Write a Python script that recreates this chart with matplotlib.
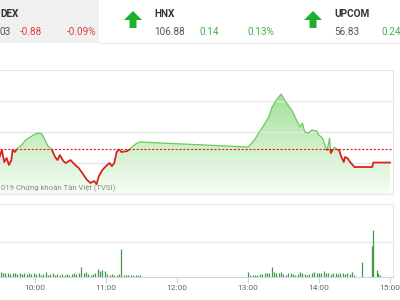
import numpy as np
import matplotlib.pyplot as plt
from matplotlib.patches import Rectangle, Polygon
from matplotlib.colors import LinearSegmentedColormap

plt.rcParams['font.family'] = ['Roboto', 'DejaVu Sans']

# ---- data ----
ref_price = 971.90
price_times = ['9:15', '9:20', '9:25', '9:30', '9:32', '9:34', '9:36', '9:38', '9:40', '9:41',
               '9:43', '9:45', '9:48', '9:52', '9:56', '10:00', '10:03', '10:06', '10:08', '10:11',
               '10:14', '10:17', '10:19', '10:21', '10:24', '10:26', '10:30', '10:34', '10:37', '10:40',
               '10:44', '10:47', '10:50', '10:52', '10:54', '10:57', '11:00', '11:03', '11:05', '11:07',
               '11:09', '11:11', '11:13', '11:18', '11:21', '11:25', '11:28', '11:30',
               '13:00', '13:04', '13:06', '13:09', '13:12', '13:15', '13:18', '13:20', '13:24', '13:26',
               '13:28', '13:31', '13:35', '13:38', '13:41', '13:44', '13:46', '13:48', '13:51', '13:54',
               '13:58', '14:00', '14:03', '14:06', '14:07', '14:09', '14:10', '14:13', '14:15', '14:17',
               '14:19', '14:21', '14:22', '14:24', '14:27', '14:30', '14:45', '14:46', '15:00']
prices = [971.51, 971.19, 971.71, 971.38, 971.84, 971.06, 971.32, 970.87, 971.19, 971.84,
          971.71, 971.96, 972.09, 972.48, 972.67, 972.87, 972.93, 972.87, 972.55, 972.09,
          971.90, 971.38, 971.19, 971.51, 971.12, 971.00, 971.19, 970.87, 970.67, 970.35,
          969.90, 969.71, 969.84, 969.64, 970.16, 970.55, 970.80, 971.00, 970.80, 971.00,
          971.71, 971.90, 971.71, 971.77, 971.96, 972.22, 972.35, 972.35,
          972.03, 972.35, 972.55, 972.93, 973.26, 973.64, 974.03, 974.55, 975.06, 975.26,
          975.45, 975.06, 974.61, 974.29, 973.77, 973.32, 973.58, 973.00, 972.93, 973.13,
          973.06, 972.80, 972.61, 971.96, 971.84, 972.61, 971.64, 972.03, 971.90, 971.84,
          971.38, 971.06, 971.38, 971.32, 971.00, 970.74, 970.74, 971.03, 971.03]

vol_morning = [0.30, 0.12, 0.10, 0.14, 0.10, 0.12, 0.09, 0.11, 0.13, 0.10,   # 9:15 - 9:33
               0.12, 0.11, 0.09, 0.12, 0.10, 0.08, 0.10, 0.09, 0.11, 0.08,   # 9:35 - 9:53
               0.10, 0.09, 0.12, 0.08, 0.10, 0.07, 0.09, 0.14, 0.07, 0.08,   # 9:55 - 10:13
               0.10, 0.06, 0.08, 0.07, 0.09, 0.06, 0.08, 0.07, 0.09, 0.12,   # 10:15 - 10:33
               0.08, 0.10, 0.27, 0.12, 0.14, 0.08, 0.07, 0.09, 0.10, 0.22,   # 10:35 - 10:53
               0.16, 0.20, 0.18, 0.09, 0.07, 0.08, 0.06, 0.07, 0.08, 0.80,   # 10:55 - 11:13
               0.07, 0.06, 0.07, 0.05, 0.06, 0.07, 0.05, 0.06]               # 11:15 - 11:29
vol_afternoon = [0.15, 0.05, 0.06, 0.07, 0.06, 0.08, 0.09, 0.10, 0.12, 0.10,  # 13:00 - 13:18
                 0.27, 0.14, 0.12, 0.10, 0.13, 0.08, 0.07, 0.10, 0.12, 0.08,  # 13:20 - 13:38
                 0.07, 0.09, 0.14, 0.10, 0.08, 0.07, 0.09, 0.12, 0.14, 0.12,  # 13:40 - 13:58
                 0.10, 0.12, 0.17, 0.12, 0.10, 0.09, 0.12, 0.10, 0.08, 0.10,  # 14:00 - 14:18
                 0.12, 0.09, 0.11, 0.08, 0.13, 0.06]                          # 14:20 - 14:30
atc_times = ['14:36', '14:45', '14:46', '14:49', '14:50', '14:52']
atc_vols = [0.43, 0.87, 1.33, 0.20, 0.12, 0.05]

tick_labels = ['10:00', '11:00', '12:00', '13:00', '14:00', '15:00']


def minutes(s):
    h, m = s.split(':')
    return (int(h) - 9) * 60 + int(m)


t_price = np.array([minutes(s) for s in price_times])
p = np.array(prices)
t_vol = np.concatenate([np.arange(15, 15 + 2 * len(vol_morning), 2),
                        np.arange(240, 240 + 2 * len(vol_afternoon), 2),
                        [minutes(s) for s in atc_times]])
v = np.array(vol_morning + vol_afternoon + atc_vols)

W, H = 400, 300
fig = plt.figure(figsize=(4, 3), dpi=100)


def fx(x):
    return x / W


def fy(y):
    return 1 - y / H


xlim = (30.4, 362.6)
grid_c = '#e6e6e6'

# ---- header ----
fig.patches.append(Rectangle((0, fy(43)), fx(99), 43 / H, transform=fig.transFigure,
                             facecolor='#f0f0f0', edgecolor='none'))
fig.add_artist(plt.Line2D([fx(99), 1], [fy(43), fy(43)], color='#ececec', lw=1))

name_kw = dict(fontsize=7.2, fontweight='bold', color='#333333', va='baseline')
num_kw = dict(fontsize=7.2, va='baseline')
fig.text(fx(0), fy(17), 'DEX', **name_kw)
fig.text(fx(0), fy(35), '03', color='#555555', **num_kw)
fig.text(fx(20), fy(35), '-0.88', color='#e04040', **num_kw)
fig.text(fx(67), fy(35), '-0.09%', color='#e04040', **num_kw)

fig.text(fx(154), fy(17), 'HNX', **name_kw)
fig.text(fx(154), fy(35), '106.88', color='#555555', **num_kw)
fig.text(fx(200), fy(35), '0.14', color='#3cb846', **num_kw)
fig.text(fx(247), fy(35), '0.13%', color='#3cb846', **num_kw)

fig.text(fx(334), fy(17), 'UPCOM', **name_kw)
fig.text(fx(334), fy(35), '56.83', color='#555555', **num_kw)
fig.text(fx(381), fy(35), '0.24', color='#3cb846', **num_kw)

# green up arrows
for cx in (133, 313):
    pts = [(cx, 11), (cx + 9, 20), (cx + 3.5, 20), (cx + 3.5, 28), (cx - 3.5, 28),
           (cx - 3.5, 20), (cx - 9, 20)]
    fig.patches.append(Polygon([(fx(a), fy(b)) for a, b in pts], closed=True,
                               transform=fig.transFigure, facecolor='#1fae2f', edgecolor='none'))

# ---- price panel ----
ax = fig.add_axes([0, fy(194), fx(393), (194 - 70) / H])
ax.set_xlim(*xlim)
ax.set_ylim(969, 977)
ax.spines['left'].set_visible(False)
for s in ['top', 'right', 'bottom']:
    ax.spines[s].set_color(grid_c)
ax.set_xticks([])
ax.set_yticks([971, 973, 975])
ax.tick_params(left=False, labelleft=False)
ax.grid(axis='y', color=grid_c, lw=0.9)

# gradient fill under the line
cmap = LinearSegmentedColormap.from_list('g', ['#f7fdf6', '#8edb82'])
grad = np.linspace(0, 1, 256).reshape(-1, 1)
im = ax.imshow(grad, extent=[xlim[0], xlim[1], 969, 977], origin='lower', aspect='auto',
               cmap=cmap, zorder=1)
poly = ax.fill_between(t_price, p, 969, facecolor='none', edgecolor='none')
im.set_clip_path(poly.get_paths()[0], transform=ax.transData)

# green above reference, red below
up = ax.plot(t_price, p, color='#6cc960', lw=0.9, zorder=3)[0]
dn = ax.plot(t_price, p, color='#d8241c', lw=1.3, zorder=4)[0]
up.set_clip_path(Rectangle((xlim[0], ref_price), xlim[1] - xlim[0], 977 - ref_price,
                           transform=ax.transData))
dn.set_clip_path(Rectangle((xlim[0], 969), xlim[1] - xlim[0], ref_price - 969,
                           transform=ax.transData))
ax.axhline(ref_price, color='#d8241c', lw=0.8, ls=(0, (2, 1.5)), zorder=5)

fig.text(fx(1), fy(190), '019 Chứng khoán Tân Việt (TVSI)', fontsize=5.6, color='#8a8a8a',
         va='baseline')

# ---- volume panel ----
av = fig.add_axes([0, fy(277), fx(393), (277 - 204) / H])
av.set_xlim(*xlim)
av.set_ylim(0, 2.06)
av.spines['left'].set_visible(False)
for s in ['top', 'right']:
    av.spines[s].set_color(grid_c)
av.spines['bottom'].set_color('#ccd6eb')
av.set_yticks([1])
av.tick_params(left=False, labelleft=False)
av.grid(axis='y', color=grid_c, lw=0.9)
av.vlines(t_vol, 0, v, color='#3f9b3f', lw=0.9)
av.set_xticks([minutes(s) for s in tick_labels])
av.set_xticklabels(tick_labels)
av.tick_params(axis='x', length=4, color='#ccd6eb', labelsize=6, labelcolor='#666666', pad=2)

fig.savefig('out.png', dpi=100)
